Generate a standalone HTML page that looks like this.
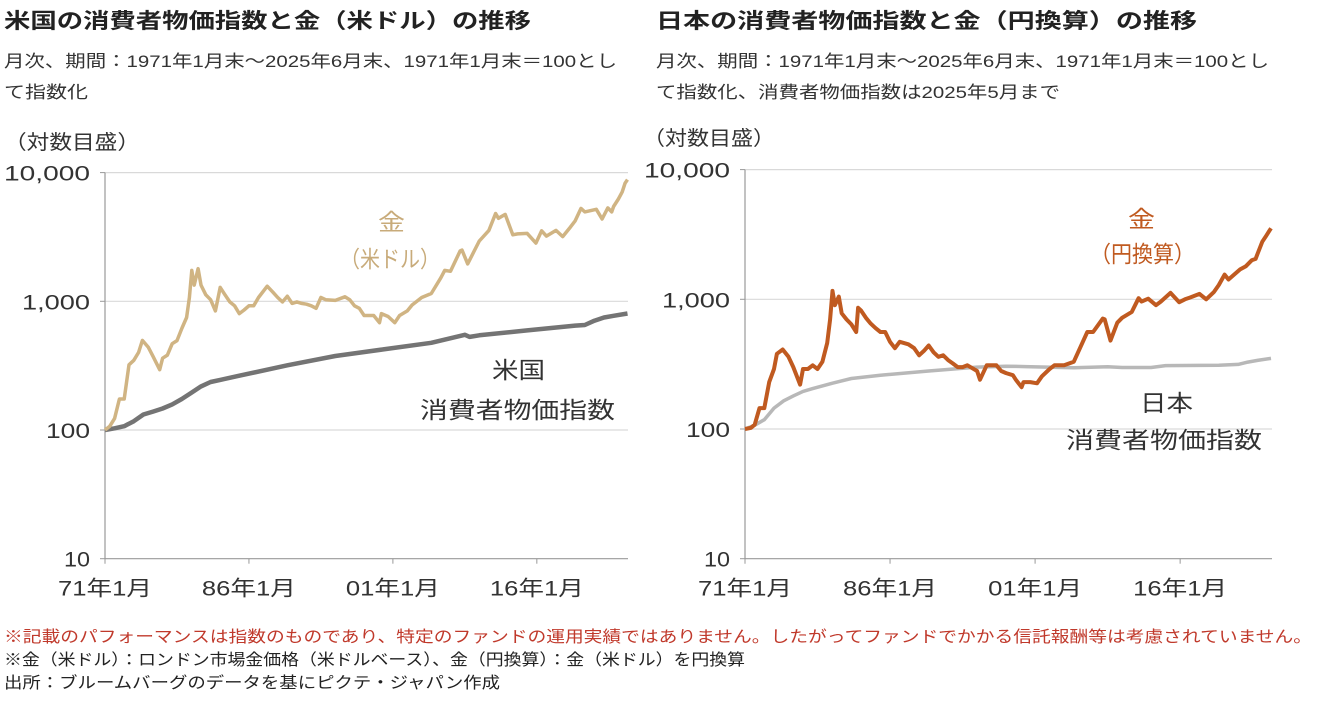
<!DOCTYPE html>
<html><head><meta charset="utf-8">
<style>
body{margin:0;width:1317px;height:705px;background:#fff;overflow:hidden;font-family:"Liberation Sans","Noto Sans CJK JP",sans-serif;color:#333}
svg{position:absolute;left:0;top:0}
</style></head>
<body>
<svg id="c" width="1317" height="705" font-family="Liberation Sans, Noto Sans CJK JP, sans-serif">
<text x="4" y="28" font-size="21" font-weight="bold" fill="#222" textLength="527" lengthAdjust="spacingAndGlyphs">米国の消費者物価指数と金（米ドル）の推移</text>
<text x="4" y="67" font-size="17" fill="#333" textLength="613" lengthAdjust="spacingAndGlyphs">月次、期間：1971年1月末～2025年6月末、1971年1月末＝100とし</text>
<text x="4" y="98" font-size="17" fill="#333" textLength="84" lengthAdjust="spacingAndGlyphs">て指数化</text>
<text x="656" y="28" font-size="21" font-weight="bold" fill="#222" textLength="541" lengthAdjust="spacingAndGlyphs">日本の消費者物価指数と金（円換算）の推移</text>
<text x="656" y="67" font-size="17" fill="#333" textLength="613" lengthAdjust="spacingAndGlyphs">月次、期間：1971年1月末～2025年6月末、1971年1月末＝100とし</text>
<text x="656" y="98" font-size="17" fill="#333" textLength="404" lengthAdjust="spacingAndGlyphs">て指数化、消費者物価指数は2025年5月まで</text>
<text x="4" y="149" font-size="20" fill="#333" textLength="136" lengthAdjust="spacingAndGlyphs">（対数目盛）</text>
<text x="643" y="145" font-size="20" fill="#333" textLength="132" lengthAdjust="spacingAndGlyphs">（対数目盛）</text>
<text x="4" y="642" font-size="16" fill="#c0392b" textLength="1308" lengthAdjust="spacingAndGlyphs">※記載のパフォーマンスは指数のものであり、特定のファンドの運用実績ではありません。したがってファンドでかかる信託報酬等は考慮されていません。</text>
<text x="4" y="665" font-size="16" fill="#222" textLength="741" lengthAdjust="spacingAndGlyphs">※金（米ドル）：ロンドン市場金価格（米ドルベース）、金（円換算）：金（米ドル）を円換算</text>
<text x="4" y="688" font-size="16" fill="#222" textLength="496" lengthAdjust="spacingAndGlyphs">出所：ブルームバーグのデータを基にピクテ・ジャパン作成</text>
<g id="g"></g>
</svg>
<script>
const yTicks=[10,100,1000,10000];
const yTickLabels=["10","100","1,000","10,000"];
const xTickYears=[1971,1986,2001,2016];
const xTickLabels=["71年1月","86年1月","01年1月","16年1月"];
const goldUsdYears=[1971.0,1971.5,1972.0,1972.5,1973.0,1973.5,1974.0,1974.5,1974.9,1975.5,1976.0,1976.7,1977.0,1977.5,1978.0,1978.5,1979.0,1979.5,1979.8,1980.05,1980.3,1980.7,1981.0,1981.5,1982.0,1982.5,1983.0,1983.5,1984.0,1984.5,1985.0,1985.5,1986.0,1986.5,1987.0,1987.9,1988.5,1989.0,1989.5,1990.0,1990.5,1991.0,1991.5,1992.0,1992.5,1993.0,1993.5,1994.0,1995.0,1996.0,1996.5,1997.0,1997.5,1998.0,1999.0,1999.6,1999.8,2000.5,2001.2,2001.7,2002.5,2003.0,2004.0,2005.0,2006.0,2006.4,2007.0,2008.0,2008.2,2008.8,2009.5,2010.0,2011.0,2011.7,2012.0,2012.7,2013.5,2014.0,2015.0,2015.9,2016.5,2017.0,2018.0,2018.7,2019.5,2020.0,2020.6,2021.0,2022.2,2022.8,2023.4,2023.8,2024.0,2024.5,2024.9,2025.2,2025.45];
const goldUsdValues=[100,107,123,174,174,321,348,401,497,441,374,294,361,382,468,495,615,749,1070,1738,1337,1791,1337,1123,1029,842,1283,1123,989,922,802,856,922,922,1070,1310,1176,1070,989,1096,963,989,963,949,922,882,1070,1029,1016,1083,1029,922,882,775,775,682,802,762,682,775,842,936,1070,1150,1524,1738,1711,2460,2500,1952,2487,2941,3556,4813,4412,4733,3289,3342,3369,2834,3529,3209,3556,3182,3770,4225,5267,4947,5187,4358,5321,4947,5455,6230,7086,8289,8824];
const usCpiYears=[1971.0,1972.0,1973.0,1974.0,1975.0,1976.0,1977.0,1978.0,1979.0,1980.0,1981.0,1982.0,1983.0,1985.0,1990.0,1995.0,2000.0,2005.0,2008.5,2009.0,2010.0,2015.0,2020.0,2021.0,2022.0,2023.0,2024.0,2025.45];
const usCpiValues=[100,103,107,117,132,139,147,158,174,195,218,236,245,264,318,376,423,476,549,529,544,594,647,654,707,749,772,804];
const goldJpyYears=[1971.0,1971.6,1972.0,1972.5,1973.0,1973.5,1974.0,1974.3,1974.9,1975.5,1976.0,1976.7,1977.0,1977.5,1978.0,1978.5,1979.0,1979.5,1979.8,1980.05,1980.3,1980.7,1981.0,1981.5,1982.0,1982.5,1982.7,1983.0,1983.5,1984.0,1984.5,1985.0,1985.5,1986.0,1986.5,1987.0,1987.9,1988.5,1989.0,1989.5,1990.0,1990.5,1991.0,1991.5,1992.0,1992.5,1993.0,1993.5,1994.0,1995.0,1995.3,1996.0,1996.5,1997.0,1997.5,1998.0,1998.7,1999.0,1999.6,1999.8,2000.5,2001.2,2001.7,2002.5,2003.0,2004.0,2005.0,2006.0,2006.4,2007.0,2008.0,2008.2,2008.8,2009.5,2010.0,2011.0,2011.7,2012.0,2012.7,2013.5,2014.0,2015.0,2015.9,2016.5,2017.0,2018.0,2018.7,2019.5,2020.0,2020.6,2021.0,2022.2,2022.8,2023.4,2023.8,2024.0,2024.5,2024.9,2025.2,2025.4];
const goldJpyValues=[100,102,108,145,145,230,290,380,410,360,300,220,290,290,310,290,330,460,700,1160,900,1050,780,700,640,560,860,820,720,650,600,560,560,470,420,470,450,420,370,400,440,390,360,370,340,320,300,300,310,280,240,310,310,310,280,270,260,240,210,230,230,225,255,290,310,310,330,480,560,560,710,700,480,660,720,800,1020,960,1010,900,960,1120,950,1000,1030,1100,1000,1140,1290,1550,1420,1700,1800,2000,2050,2240,2780,3090,3350,3530];
const jpCpiYears=[1971.0,1972.0,1973.0,1974.0,1975.0,1976.0,1977.0,1978.0,1980.0,1982.0,1985.0,1990.0,1995.0,1998.0,2000.0,2005.0,2008.5,2010.0,2013.0,2014.5,2020.0,2022.0,2023.0,2024.0,2025.4];
const jpCpiValues=[100,107,118,145,165,180,195,205,225,245,260,280,300,305,303,297,302,298,298,308,310,315,328,338,350];

const NS="http://www.w3.org/2000/svg";
const root=document.getElementById('g');
function mk(tag,attrs,parent){const e=document.createElementNS(NS,tag);for(const k in attrs)e.setAttribute(k,attrs[k]);(parent||root).appendChild(e);return e;}
const yLabelW={"10":26,"100":44,"1,000":68,"10,000":86};

function drawPanel(p,pfx){
  const X=y=>p.x0+(y-1971)*(p.x1-p.x0)/(2025.5-1971);
  const Y=v=>p.y100-(Math.log10(v)-2)*p.dec;
  const axis=mk('g',{});
  
  
  yTicks.forEach((t,i)=>{
    if(t>10){const gl=mk('line',{x1:p.x0,x2:p.x1,y1:Y(t),y2:Y(t),stroke:'#d9d9d9','stroke-width':1.2},axis);
      
      }
    mk('line',{x1:p.x0-5,x2:p.x0,y1:Y(t),y2:Y(t),stroke:'#999'},axis);
    const tl=mk('text',{x:p.x0-15,y:Y(t)+8,'text-anchor':'end','font-size':21,fill:'#333',textLength:yLabelW[yTickLabels[i]],lengthAdjust:'spacingAndGlyphs'},axis);
    tl.textContent=yTickLabels[i];
    
    
  });
  mk('line',{x1:p.x0,x2:p.x0,y1:Y(10000),y2:Y(10),stroke:'#999','stroke-width':1.2},axis);
  mk('line',{x1:p.x0,x2:p.x1,y1:Y(10),y2:Y(10),stroke:'#999','stroke-width':1.2},axis);
  xTickYears.forEach((yr,i)=>{
    mk('line',{x1:X(yr),x2:X(yr),y1:Y(10),y2:Y(10)+5,stroke:'#999'},axis);
    const tl=mk('text',{x:X(yr)-47,y:Y(10)+37,'font-size':21,fill:'#333',textLength:94,lengthAdjust:'spacingAndGlyphs'},axis);
    tl.textContent=xTickLabels[i];
    
    
  });
  function line(xs,vs,color,w,name){
    const d=xs.map((x,i)=>(i?'L':'M')+X(x).toFixed(1)+','+Y(vs[i]).toFixed(1)).join('');
    const e=mk('path',{d:d,fill:'none',stroke:color,'stroke-width':w,'stroke-linejoin':'round'});
    
    
  }
  line(p.cpiX,p.cpiV,p.cpiC,p.cpiW,pfx+'-cpi-line');
  line(p.goldX,p.goldV,p.goldC,p.goldW,pfx+'-gold-line');
  p.labels.forEach(l=>{
    const t=mk('text',{x:l[0],y:l[1],'font-size':23,fill:l[3],textLength:l[5],lengthAdjust:'spacingAndGlyphs'});
    t.textContent=l[2];
    
    
  });
}
drawPanel({x0:105,x1:628,y100:430,dec:128.7,cpiX:usCpiYears,cpiV:usCpiValues,cpiC:'#747474',cpiW:4.5,goldX:goldUsdYears,goldV:goldUsdValues,goldC:'#d0b483',goldW:3.5,
 labels:[[378,230,'金','#c8ab7a','gold-usd-label',27],[340,267,'（米ドル）','#c8ab7a','gold-usd-label-2',100],[492,378,'米国','#333','us-cpi-label',53],[420,418,'消費者物価指数','#333','us-cpi-label-2',195]]},'left');
drawPanel({x0:745,x1:1272,y100:429,dec:129.7,cpiX:jpCpiYears,cpiV:jpCpiValues,cpiC:'#b8b8b8',cpiW:3.5,goldX:goldJpyYears,goldV:goldJpyValues,goldC:'#c05a20',goldW:4,
 labels:[[1128,227,'金','#c05a20','gold-jpy-label',27],[1090,262,'（円換算）','#c05a20','gold-jpy-label-2',105],[1140,411,'日本','#333','jp-cpi-label',53],[1066,448,'消費者物価指数','#333','jp-cpi-label-2',196]]},'right');
</script>
</body></html>
